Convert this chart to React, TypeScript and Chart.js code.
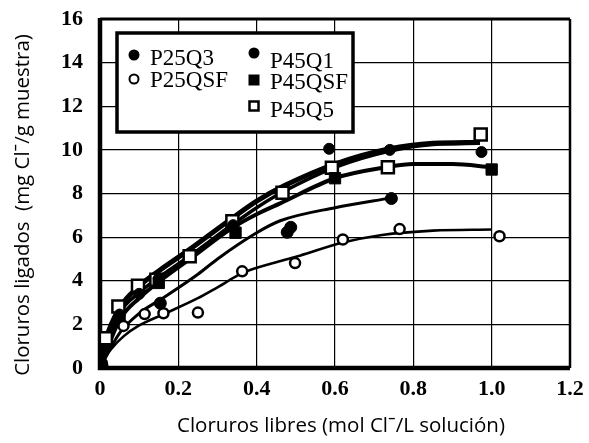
import { useEffect, useRef } from 'react';
import { Chart, registerables } from 'chart.js';
Chart.register(...registerables);

// Axis tick labels
const xTickLabels = ['0', '0.2', '0.4', '0.6', '0.8', '1.0', '1.2'];
const yTickLabels = ['0', '2', '4', '6', '8', '10', '12', '14', '16'];

const xTitle = 'Cloruros libres (mol Clˉ/L solución)';
const yTitle = 'Cloruros ligados  (mg Clˉ/g muestra)';

// Legend labels
const legendLabels = ['P25Q3', 'P25QSF', 'P45Q1', 'P45QSF', 'P45Q5'];

// Measured points [x, y]
const p25q3Pts = [[0, 0], [0.005, 0.1], [0.154, 2.97], [0.478, 6.22], [0.487, 6.45], [0.744, 7.77]];
const p25qsfPts = [[0.005, 0.2], [0.06, 1.93], [0.114, 2.47], [0.162, 2.51], [0.25, 2.54], [0.363, 4.43], [0.498, 4.81], [0.62, 5.89], [0.765, 6.37], [1.02, 6.04]];
const p45q1Pts = [[0, 0.05], [0.05, 2.45], [0.1, 3.4], [0.15, 4.1], [0.34, 6.55], [0.585, 10.05], [0.74, 10.0], [0.974, 9.9]];
const p45qsfPts = [[0.003, 0.1], [0.05, 2.2], [0.15, 3.9], [0.346, 6.2], [0.6, 8.7], [1.0, 9.1]];
const p45q5Pts = [[0.015, 1.36], [0.047, 2.82], [0.097, 3.77], [0.144, 4.05], [0.229, 5.12], [0.338, 6.73], [0.466, 8.03], [0.592, 9.18], [0.735, 9.2], [0.972, 10.7]];

// Fitted curves [x, y]
const curveP45Q5 = [[0, 0], [0.015, 1.3], [0.05, 2.75], [0.1, 3.75], [0.15, 4.45], [0.23, 5.45], [0.34, 6.9], [0.4, 7.65], [0.47, 8.35], [0.6, 9.35], [0.74, 10.05], [0.85, 10.3], [0.97, 10.35]];
const curveP45Q1 = [[0, 0], [0.05, 2.5], [0.1, 3.45], [0.15, 4.15], [0.23, 5.15], [0.34, 6.6], [0.4, 7.35], [0.47, 8.1], [0.6, 9.2], [0.74, 9.95], [0.85, 10.25], [0.97, 10.3]];
const curveP45QSF = [[0, 0], [0.05, 2.2], [0.1, 3.2], [0.15, 3.95], [0.23, 5.0], [0.34, 6.45], [0.4, 7.05], [0.46, 7.55], [0.6, 8.7], [0.73, 9.2], [0.8, 9.35], [0.9, 9.35], [1.0, 9.2]];
const curveP25Q3 = [[0, 0], [0.05, 1.6], [0.1, 2.5], [0.16, 3.2], [0.25, 4.3], [0.3, 5.0], [0.4, 6.2], [0.46, 6.75], [0.6, 7.35], [0.744, 7.8]];
const curveP25QSF = [[0, 0], [0.01, 0.4], [0.03, 0.9], [0.06, 1.45], [0.1, 1.95], [0.16, 2.45], [0.25, 3.2], [0.3, 3.7], [0.363, 4.35], [0.45, 4.85], [0.51, 5.15], [0.62, 5.75], [0.72, 6.1], [0.85, 6.3], [1.0, 6.35]];

const toXY = (arr: number[][]) => arr.map(([x, y]) => ({ x, y }));

const SERIF = '"Liberation Serif", "Times New Roman", serif';
const SANS = '"Open Sans", Lato, sans-serif';

function lineDs(arr: number[][], width: number) {
  return {
    data: toXY(arr),
    showLine: true,
    borderColor: '#000',
    borderWidth: width,
    pointRadius: 0,
    cubicInterpolationMode: 'monotone' as const,
    fill: false,
    order: 2,
  };
}

function markDs(arr: number[][], style: string, radius: number, filled: boolean) {
  return {
    data: toXY(arr),
    showLine: false,
    pointStyle: style,
    pointRadius: radius,
    pointBackgroundColor: filled ? '#000' : '#fff',
    pointBorderColor: '#000',
    pointBorderWidth: filled ? 1 : 2.5,
    order: 1,
  };
}

function fitText(ctx: CanvasRenderingContext2D, text: string, target: number) {
  ctx.font = `20px ${SANS}`;
  const w = ctx.measureText(text).width;
  const size = (20 * target) / w;
  ctx.font = `${size.toFixed(2)}px ${SANS}`;
}

const decorPlugin = {
  id: 'decor',
  beforeDatasetsDraw(chart: any) {
    const { ctx, chartArea: a } = chart;
    ctx.save();
    ctx.strokeStyle = '#000';
    ctx.lineWidth = 3;
    ctx.beginPath();
    ctx.moveTo(a.left, a.top);
    ctx.lineTo(a.right, a.top);
    ctx.stroke();
    ctx.lineWidth = 2.5;
    ctx.beginPath();
    ctx.moveTo(a.right, a.top);
    ctx.lineTo(a.right, a.bottom);
    ctx.stroke();
    ctx.lineWidth = 4.5;
    ctx.beginPath();
    ctx.moveTo(a.left, a.top - 1);
    ctx.lineTo(a.left, a.bottom);
    ctx.lineTo(a.right, a.bottom);
    ctx.stroke();
    ctx.restore();
  },
  afterDatasetsDraw(chart: any) {
    const { ctx } = chart;
    ctx.save();
    // legend box
    const bx = 117, by = 33, bw = 236, bh = 99;
    ctx.fillStyle = '#fff';
    ctx.fillRect(bx, by, bw, bh);
    ctx.strokeStyle = '#000';
    ctx.lineWidth = 3.5;
    ctx.strokeRect(bx, by, bw, bh);
    const entries = [
      { mx: 134, my: 55, tx: 150, ty: 65, kind: 'fc' },
      { mx: 134, my: 79, tx: 150, ty: 87, kind: 'oc' },
      { mx: 254, my: 53, tx: 270, ty: 68, kind: 'fc' },
      { mx: 254, my: 80, tx: 270, ty: 89, kind: 'fs' },
      { mx: 254, my: 106, tx: 270, ty: 117, kind: 'os' },
    ];
    ctx.font = `23px ${SERIF}`;
    ctx.textBaseline = 'alphabetic';
    ctx.textAlign = 'left';
    entries.forEach((e, i) => {
      ctx.fillStyle = '#000';
      ctx.strokeStyle = '#000';
      if (e.kind === 'fc') {
        ctx.beginPath();
        ctx.arc(e.mx, e.my, 5.5, 0, Math.PI * 2);
        ctx.fill();
      } else if (e.kind === 'oc') {
        ctx.lineWidth = 2;
        ctx.beginPath();
        ctx.arc(e.mx, e.my, 4.5, 0, Math.PI * 2);
        ctx.stroke();
      } else if (e.kind === 'fs') {
        ctx.fillRect(e.mx - 5.5, e.my - 5.5, 11, 11);
      } else {
        ctx.lineWidth = 2.5;
        ctx.strokeRect(e.mx - 4.5, e.my - 4.5, 9, 9);
      }
      ctx.fillStyle = '#000';
      ctx.fillText(legendLabels[i], e.tx, e.ty);
    });
    ctx.restore();
  },
  afterDraw(chart: any) {
    const { ctx } = chart;
    ctx.save();
    ctx.fillStyle = '#000';
    ctx.textAlign = 'center';
    ctx.textBaseline = 'middle';
    fitText(ctx, xTitle, 328);
    ctx.fillText(xTitle, 341, 426);
    fitText(ctx, yTitle, 342);
    ctx.translate(23, 205);
    ctx.rotate(-Math.PI / 2);
    ctx.fillText(yTitle, 0, 0);
    ctx.restore();
  },
};

export default function App() {
  const ref = useRef<HTMLCanvasElement>(null);
  useEffect(() => {
    if (!ref.current) return;
    const chart = new Chart(ref.current, {
      type: 'scatter',
      data: {
        datasets: [
          lineDs(curveP45Q5, 5),
          lineDs(curveP45Q1, 3.5),
          lineDs(curveP45QSF, 4),
          lineDs(curveP25Q3, 3),
          lineDs(curveP25QSF, 2.6),
          markDs(p25q3Pts, 'circle', 6, true),
          markDs(p25qsfPts, 'circle', 5, false),
          markDs(p45q1Pts, 'circle', 5.5, true),
          markDs(p45qsfPts, 'rect', 8, true),
          markDs(p45q5Pts, 'rect', 8.5, false),
        ] as any,
      },
      options: {
        animation: false,
        responsive: false,
        layout: { padding: { top: 19, right: 19, left: 0, bottom: 0 } },
        plugins: { legend: { display: false }, tooltip: { enabled: false } },
        scales: {
          x: {
            type: 'linear',
            min: 0,
            max: 1.2,
            ticks: {
              stepSize: 0.2,
              autoSkip: false,
              maxRotation: 0,
              color: '#000',
              padding: 8,
              font: { family: SERIF, size: 22, weight: 'bold' },
              callback: (_v: any, i: number) => xTickLabels[i],
            },
            grid: { color: '#000', lineWidth: 1.2, drawTicks: false },
            border: { display: false },
            afterFit: (s: any) => { s.height = 75; s.paddingLeft = 0; s.paddingRight = 0; },
          },
          y: {
            type: 'linear',
            min: 0,
            max: 16,
            ticks: {
              stepSize: 2,
              autoSkip: false,
              color: '#000',
              padding: 17,
              font: { family: SERIF, size: 22, weight: 'bold' },
              callback: (_v: any, i: number) => yTickLabels[i],
            },
            grid: { color: '#000', lineWidth: 1.2, drawTicks: false },
            border: { display: false },
            afterFit: (s: any) => { s.width = 100; s.paddingTop = 0; s.paddingBottom = 0; },
          },
        },
      } as any,
      plugins: [decorPlugin],
    });
    return () => chart.destroy();
  }, []);
  return (
    <div style={{ position: 'fixed', left: 0, top: 0, width: 589, height: 443, background: '#fff' }}>
      <canvas ref={ref} width={589} height={443} style={{ display: 'block' }} />
    </div>
  );
}
